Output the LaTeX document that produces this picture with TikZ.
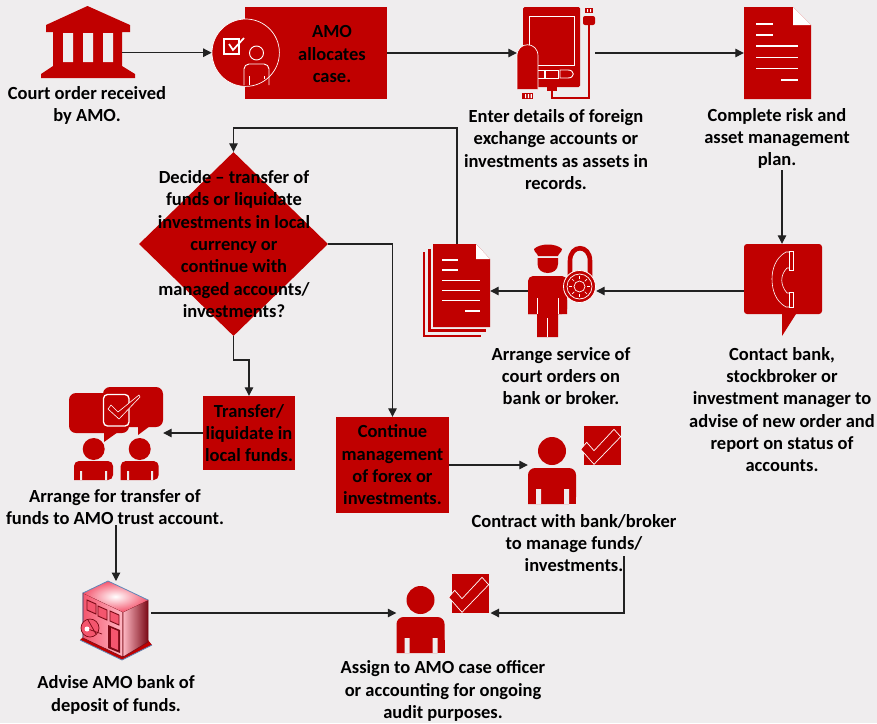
\documentclass[tikz,border=0pt]{standalone}
\usepackage{fontspec}
\setmainfont{Carlito}
\usetikzlibrary{arrows.meta,shapes.geometric,positioning}
\definecolor{amored}{HTML}{C00000}
\definecolor{pagebg}{HTML}{EFEDEE}
\definecolor{linecol}{HTML}{222222}
\definecolor{bpink}{HTML}{F4566E}
\definecolor{bpale}{HTML}{FFB8C4}
\definecolor{bdark}{HTML}{7A0A16}
\definecolor{bblue}{HTML}{5F88B8}
\tikzset{
  lab/.style={font=\bfseries\fontsize{18.5}{22.3}\selectfont,align=center,inner sep=0pt,text=black},
  redbox/.style={fill=amored,draw=none,inner sep=0pt},
  span/.style={inner sep=0pt,draw=none,fill=none},
  conn/.style={draw=linecol,line width=1.2pt,-{Triangle[length=8.5pt,width=8.5pt]}},
  wl/.style={draw=white,line width=.9pt},
  person/.pic={
    \fill[amored] (0,0) circle[radius=14pt];
    \fill[amored,rounded corners=7pt] (-24,53) -- (-24,17) -- (24,17) -- (24,53) [sharp corners] -- cycle;
    \fill[amored] (-24,40) rectangle (24,53);
    \fill[pagebg] (-16,38) rectangle (-11,53) (12,38) rectangle (17,53);
  },
  checksq/.pic={
    \fill[amored] (0,0) rectangle (37,39);
    \draw[white,fill=amored,line width=.7pt] (-3.3,23.3) -- (2.7,16.3) -- (10,24.7) -- (30,3.3) -- (36.7,10.7) -- (10,38.3) -- cycle;
  },
  docicon/.pic={
    \fill[amored] (0,0) -- (49,0) -- (67,18) -- (67,92) -- (0,92) -- cycle;
    \fill[white] (49,0) -- (67,18) -- (49,18) -- cycle;
    \draw[white,line width=1.3pt] (12,17) -- (29,17) (12,28) -- (29,28) (12,39) -- (54,39) (12,50.5) -- (54,50.5) (12,61.5) -- (54,61.5) (37,73) -- (54,73);
  },
}
\begin{document}
\begin{tikzpicture}[x=1pt,y=-1pt]
\useasboundingbox (0,0) rectangle (877,723);
\fill[pagebg] (0,0) rectangle (877,723);

% bank icon
\fill[amored] (87.5,6) -- (130,25) -- (130,32) -- (122,32) -- (122,66) -- (135,74) -- (135,78) -- (41,78) -- (41,74) -- (53,66) -- (53,32) -- (46,32) -- (46,25) -- cycle;
\fill[pagebg] (63,33) rectangle (73,62) (83,33) rectangle (93,62) (103,33) rectangle (113,62);
\node[span,minimum width=69pt,minimum height=40pt] (bank) at (87.5,52.7) {};
\node[lab] (t1) at (87,105.5) {Court order received\\by AMO.};

% AMO allocates
\node[redbox,minimum width=142pt,minimum height=92pt] (alloc) at (316,53) {};
\node[lab] (t2) at (332,54) {AMO\\allocates\\case.};
\node[circle,fill=amored,draw=white,line width=.7pt,minimum size=67.4pt,inner sep=0pt] (officercirc) at (245.7,52.7) {};
\draw[white,line width=1.5pt] (224,39) rectangle (239,54);
\draw[white,line width=1.7pt] (229,44) -- (233,50) -- (244,38);
\draw[white,line width=.9pt] (256.5,53) circle[radius=7pt];
\draw[white,line width=.9pt,rounded corners=5pt] (244,85) -- (244,64) -- (269,64) -- (269,85);
\draw[white,line width=.9pt] (249,76) -- (249,85) (264,76) -- (264,79);

% device icon
\fill[amored,rounded corners=1.5pt] (523,7) rectangle (580,87);
\draw[wl] (529,16) rectangle (574,65);
\draw[wl] (538,70) -- (544,70) -- (544,78) -- (538,78);
\draw[wl] (545.5,70) rectangle (558,78);
\draw[wl] (560,70) -- (568,70) .. controls (575,70) and (575,78) .. (568,78) -- (560,78) -- cycle;
\fill[amored] (547,87) rectangle (557,91);
\draw[amored,line width=1.2pt] (552,91) -- (552,98) -- (589,98) -- (589,25);
\fill[amored,rounded corners=2pt] (583,16) -- (595,16) -- (595,25) -- (583,25) -- cycle;
\fill[amored] (585,8) rectangle (593,13);
\fill[white] (587,9) rectangle (588.2,12) (590,9) rectangle (591.2,12);
\filldraw[fill=amored,draw=white,line width=.7pt] (517,89) -- (517,56) .. controls (517,41) and (538,41) .. (538,56) -- (538,89);
\fill[amored] (522,93) rectangle (533,99);
\fill[white] (525,94) rectangle (526.2,98) (527.8,94) rectangle (529,98) (530.6,94) rectangle (531.8,98);
\node[span,minimum width=78pt,minimum height=40pt] (device) at (556,53) {};
\node[lab] (t3) at (556,149.5) {Enter details of foreign\\exchange accounts or\\investments as assets in\\records.};

% risk plan document
\pic at (744,7) {docicon};
\node[span,minimum width=67pt,minimum height=92pt] (plan) at (777.5,53) {};
\node[lab] (t4) at (777,138.5) {Complete risk and\\asset management\\plan.};
\coordinate (planout) at (782,170);

% phone callout
\fill[amored,rounded corners=3pt] (744,244) rectangle (822,314);
\fill[amored] (782,310) -- (782,336) -- (796,314) -- (796,310) -- cycle;
\node[span,minimum width=78pt,minimum height=94pt] (phone) at (783,291) {};
\draw[white,line width=.6pt] (789,251) -- (793,251) -- (793,270) -- (789,270) -- cycle (789,292) -- (793,292) -- (793,307) -- (789,307) -- cycle;
\draw[white,line width=.6pt] (789,252) -- (786,252) .. controls (775,258) and (772,270) .. (772,279) .. controls (772,289) and (775,301) .. (786,307) -- (789,307);
\draw[white,line width=.6pt] (789,268) -- (787,268) .. controls (780,275) and (780,285) .. (787,293) -- (789,293);
\node[lab] (t5) at (782,409.5) {Contact bank,\\stockbroker or\\investment manager to\\advise of new order and\\report on status of\\accounts.};

% officer with lock
\fill[amored] (534,249) .. controls (540,243) and (556,243) .. (562,249) .. controls (562,252) and (558,254) .. (558,256) -- (538,256) .. controls (538,254) and (534,252) .. (534,249) -- cycle;
\fill[amored] (537.5,258) -- (558,258) -- (558,264) .. controls (558,276) and (537.5,276) .. (537.5,264) -- cycle;
\fill[amored,rounded corners=5pt] (528,314) -- (528,276) -- (567,276) -- (567,314) [sharp corners] -- cycle;
\fill[amored] (528,300) rectangle (567,314) (537,314) rectangle (558,337);
\draw[white,line width=.7pt] (537,298) -- (537,314) (558,298) -- (558,314) (547.5,318) -- (547.5,337);
\draw[amored,line width=4.6pt] (570,280) -- (570,261) .. controls (570,244) and (590,244) .. (590,261) -- (590,280);
\node[circle,fill=amored,draw=white,line width=.8pt,minimum size=32pt,inner sep=0pt] (dial) at (579.5,286.5) {};
\draw[white,line width=.7pt] (579.5,286.5) circle[radius=12.5pt] (579.5,286.5) circle[radius=5.5pt];
\foreach \a in {0,45,...,315} \draw[white,line width=.7pt] ({579.5+7.5*cos(\a)},{286.5+7.5*sin(\a)}) -- ({579.5+10.5*cos(\a)},{286.5+10.5*sin(\a)});
\node[span,minimum width=68pt,minimum height=40pt] (guard) at (562,291) {};
\node[lab] (t6) at (561,376) {Arrange service of\\court orders on\\bank or broker.};

% court order documents
\fill[amored] (423,252) rectangle (481,337);
\fill[pagebg] (425,250) rectangle (490,335);
\fill[amored] (428,249) rectangle (486,332);
\fill[pagebg] (431,246) rectangle (491,329);
\fill[amored] (433,244) -- (476,244) -- (490,259) -- (490,327) -- (433,327) -- cycle;
\fill[white] (476,244) -- (490,259) -- (476,259) -- cycle;
\draw[white,line width=1.3pt] (442,260) -- (458,260) (442,270) -- (458,270) (442,280.5) -- (480,280.5) (442,290.5) -- (480,290.5) (442,300.5) -- (480,300.5) (465,311) -- (480,311);
\node[span,minimum width=57pt,minimum height=94pt] (orders) at (461.5,291) {};
\coordinate (ordersout) at (457,244);

% decision diamond
\node[diamond,fill=amored,minimum width=189pt,minimum height=184pt,inner sep=0pt,aspect=1.03] (decide) at (233.5,244) {};
\node[lab] (t7) at (234,244) {Decide -- transfer of\\funds or liquidate\\investments in local\\currency or\\continue with\\managed accounts/\\investments?};

% transfer box
\node[redbox,lab,minimum width=92pt,minimum height=74pt] (transfer) at (249,433) {Transfer/\\liquidate in\\local funds.};
% continue box
\node[redbox,lab,minimum width=113.5pt,minimum height=96pt] (continue) at (392.5,465) {Continue\\management\\of forex or\\investments.};

% two people with speech bubbles
\fill[amored,rounded corners=7pt] (69,393) rectangle (129,433);
\fill[amored] (104,430) -- (104,442) -- (118,432) -- cycle;
\fill[amored,rounded corners=7pt] (103,387) rectangle (163,427);
\fill[amored] (138,424) -- (138,435) -- (150,426) -- cycle;
\draw[white,line width=1.3pt,rounded corners=4pt] (103.5,394.5) rectangle (129,426);
\draw[white,fill=amored,line width=.6pt] (108,409) -- (111,405) -- (118,412) -- (139,395) -- (140,397) -- (119,419) -- cycle;
\fill[amored] (93.7,449) circle[radius=11pt] (139.7,449) circle[radius=11pt];
\fill[amored,rounded corners=5pt] (74,480) -- (74,461) -- (113,461) -- (113,480) [sharp corners] -- cycle;
\fill[amored,rounded corners=5pt] (120.7,480) -- (120.7,461) -- (158.7,461) -- (158.7,480) [sharp corners] -- cycle;
\fill[pagebg] (80,471) rectangle (82,480) (105,471) rectangle (107,480) (127,471) rectangle (129,480) (151,471) rectangle (153,480);
\node[span,minimum width=94pt,minimum height=40pt] (people) at (116,433) {};
\node[lab] (t8) at (115,507) {Arrange for transfer of\\funds to AMO trust account.};
\coordinate (peopleout) at (116,525);

% contract person
\pic at (552,451) {person};
\pic at (584,426) {checksq};
\node[span,minimum width=48pt,minimum height=40pt] (contract) at (552,465) {};
\node[lab] (t9) at (574,543) {Contract with bank/broker\\to manage funds/\\investments.};
\coordinate (contractout) at (624,556);

% building
\fill[amored] (80,640) -- (122,660) -- (152,645) -- (148,640) -- (84,636) -- cycle;
\path[left color=bpink,right color=bpale,draw=bdark,line width=.6pt] (83,593) -- (123,612) -- (123,657) -- (83,638) -- cycle;
\path[left color=bpale,right color=bdark,draw=bdark,line width=.6pt] (123,612) -- (148,600) -- (148,642) -- (123,657) -- cycle;
\path[inner color=white,outer color=bpink,draw=none] (108,581) -- (148,600) -- (123,612) -- (83,593) -- cycle;
\draw[bblue,line width=.8pt] (83,638) -- (83,593) -- (108,581) -- (148,600);
\draw[bblue,line width=.8pt] (80,640) -- (122,660) -- (152,645);
\draw[bdark,line width=.9pt,fill=bpink] (87,600) -- (96,604) -- (96,614) -- (87,610) -- cycle (98,606) -- (107,610) -- (107,620) -- (98,616) -- cycle (110,611) -- (119,615) -- (119,625) -- (110,621) -- cycle;
\fill[bdark] (108,625) -- (120,630) -- (120,653) -- (108,648) -- cycle;
\fill[bpink] (111,628) -- (118,631) -- (118,650) -- (111,647) -- cycle;
\draw[bdark,line width=.7pt,fill=bpink] (90,628) circle[radius=9pt];
\draw[bdark,line width=.7pt] (85,628) -- (102,634) (88,620) -- (96,634);
\fill[white] (87,629) circle[radius=2.5pt];
\node[span,minimum width=70pt,minimum height=40pt] (vault) at (116,613) {};
\coordinate (vaulttop) at (116,581);
\node[lab] (t10) at (116,695) {Advise AMO bank of\\deposit of funds.};

% case officer
\pic at (420.5,600) {person};
\pic at (452,574) {checksq};
\node[span,minimum width=48pt,minimum height=40pt] (caseoff) at (420.5,613) {};
\coordinate (casein) at (490.5,613);
\node[lab] (t11) at (443,691) {Assign to AMO case officer\\or accounting for ongoing\\audit purposes.};

% connectors
\draw[conn] (bank.east) -- (officercirc.west);
\draw[conn] (alloc.east) -- (device.west);
\draw[conn] (device.east) -- (plan.west);
\draw[conn] (planout) -- (planout |- phone.north);
\draw[conn] (phone.west) -- (guard.east);
\draw[conn] (guard.west) -- (orders.east);
\draw[conn] (ordersout) |- (decide.north |- 0,128) -- (decide.north);
\draw[conn] (decide.east) -| (continue.north);
\draw[conn] (decide.south) |- (transfer.north |- 0,360) -- (transfer.north);
\draw[conn] (transfer.west) -- (people.east);
\draw[conn] (continue.east) -- (contract.west);
\draw[conn] (peopleout) -- (vaulttop);
\draw[conn] (vault.east) -- (caseoff.west);
\draw[conn] (contractout) |- (casein);
\end{tikzpicture}
\end{document}
